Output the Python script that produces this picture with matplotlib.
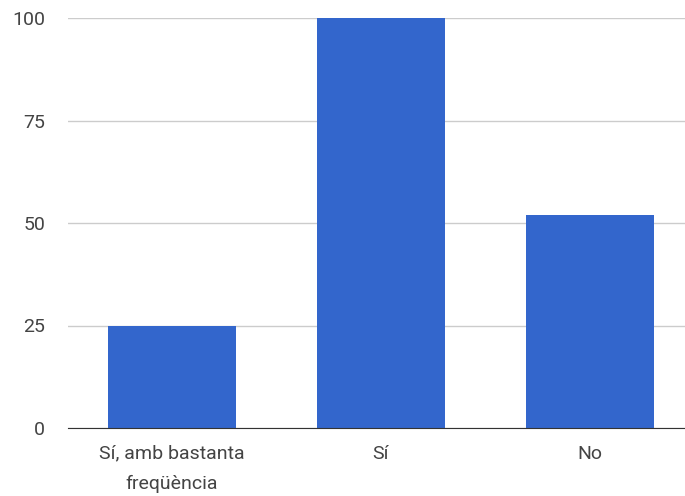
import matplotlib.pyplot as plt

categories = ["Sí, amb bastanta\nfreqüència", "Sí", "No"]
values = [25, 100, 52]
yticks = [0, 25, 50, 75, 100]

plt.rcParams['font.family'] = ['Roboto', 'DejaVu Sans']

fig = plt.figure(figsize=(6.85, 4.96), dpi=100)
ax = fig.add_axes([67.5 / 685, 68 / 496, 627 / 685, 410 / 496])

ax.bar(range(len(categories)), values, width=0.61, color='#3366cc', zorder=2)

ax.set_xlim(-0.5, 2.5)
ax.set_ylim(0, 100)
ax.set_yticks(yticks)
ax.set_xticks(range(len(categories)))
ax.set_xticklabels(categories, linespacing=1.85)
ax.grid(axis='y', color='#cccccc', linewidth=1, zorder=0)

for s in ['top', 'right', 'left']:
    ax.spines[s].set_visible(False)
ax.spines['bottom'].set_color('#333333')
ax.spines['bottom'].set_zorder(3)

ax.tick_params(axis='both', length=0, labelsize=14, labelcolor='#444444')
ax.tick_params(axis='y', pad=16)
ax.tick_params(axis='x', pad=12)

plt.savefig('out.png', dpi=100)
